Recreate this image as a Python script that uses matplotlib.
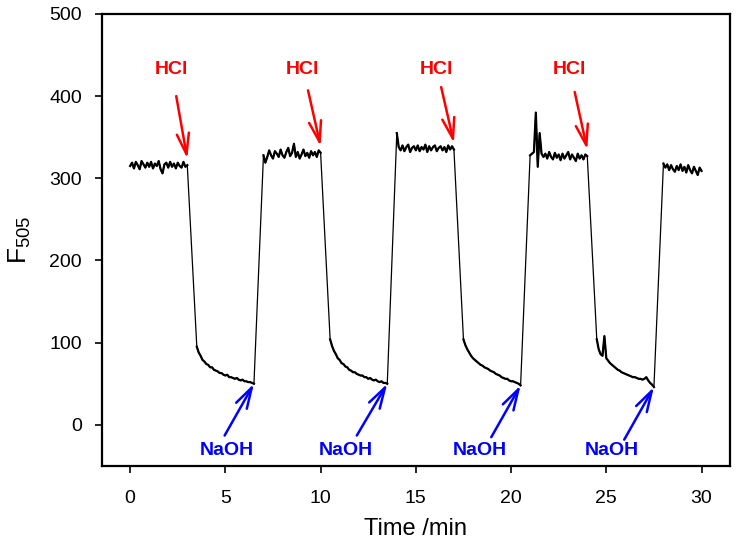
import numpy as np
import matplotlib.pyplot as plt

plt.rcParams['font.family'] = ['Liberation Sans', 'DejaVu Sans']
plt.rcParams['mathtext.default'] = 'regular'

# sampling step of the trace (min)
step = 0.1

# trace pieces: (start time, F505 values every 0.1 min)
p1_start = 0.0
p1 = [315, 319, 312, 320, 316, 311, 321, 317, 313, 319, 314, 320, 312, 318, 315, 321,
      311, 306, 317, 319, 313, 320, 314, 318, 312, 319, 315, 313, 320, 314, 316]
d1_start = 3.5
d1 = [95, 88, 84, 79, 77, 74, 73, 70, 70, 67, 66, 65, 63, 63, 61, 60, 61, 58, 58, 57,
      56, 57, 55, 54, 55, 53, 53, 52, 52, 51, 50]
p2_start = 7.0
p2 = [328, 319, 326, 334, 328, 324, 333, 330, 326, 335, 328, 325, 332, 337, 327, 331,
      342, 326, 332, 324, 329, 335, 327, 331, 325, 333, 328, 332, 326, 334, 331]
d2_start = 10.5
d2 = [104, 96, 90, 86, 81, 79, 75, 74, 71, 70, 67, 66, 64, 64, 62, 61, 60, 60, 58, 58,
      56, 57, 55, 54, 55, 53, 52, 53, 51, 51, 50]
p3_start = 14.0
p3 = [355, 338, 334, 340, 333, 338, 341, 332, 337, 339, 334, 340, 333, 338, 335, 341,
      332, 339, 334, 338, 340, 333, 337, 339, 334, 338, 332, 340, 335, 339, 335]
d3_start = 17.5
d3 = [104, 97, 92, 88, 84, 81, 79, 77, 75, 73, 72, 70, 69, 68, 66, 65, 64, 62, 61, 60,
      58, 57, 56, 56, 54, 53, 53, 52, 51, 50, 48]
p4_start = 21.0
p4 = [328, 330, 332, 380, 314, 355, 330, 326, 330, 324, 332, 326, 323, 331, 325, 329,
      322, 330, 324, 328, 332, 323, 329, 325, 321, 330, 324, 328, 323, 329, 327]
d4_start = 24.5
d4 = [104, 92, 86, 84, 108, 81, 78, 75, 73, 71, 69, 67, 66, 64, 63, 62, 61, 60, 59, 58,
      58, 57, 56, 56, 55, 56, 58, 54, 51, 49, 46]
p5_start = 28.0
p5 = [318, 313, 317, 310, 316, 311, 308, 315, 310, 317, 309, 314, 307, 316, 310, 306,
      314, 309, 304, 313, 309]

pieces = [(p1_start, p1), (d1_start, d1), (p2_start, p2), (d2_start, d2),
          (p3_start, p3), (d3_start, d3), (p4_start, p4), (d4_start, d4),
          (p5_start, p5)]

t = np.concatenate([start + step * np.arange(len(v)) for start, v in pieces])
F = np.concatenate([np.array(v, dtype=float) for start, v in pieces])

# HCl is added at the end of each plateau, NaOH at the end of each decay
hcl_pieces = [(p1_start, p1), (p2_start, p2), (p3_start, p3), (p4_start, p4)]
naoh_pieces = [(d1_start, d1), (d2_start, d2), (d3_start, d3), (d4_start, d4)]
hcl_tails = [(2.42, 400), (9.34, 407), (16.33, 411), (23.34, 405)]
hcl_text = [(2.16, 433), (9.07, 433), (16.07, 433), (23.04, 433)]
naoh_tails = [(4.96, -13), (11.9, -13), (18.96, -15), (25.94, -18)]
naoh_text = [(5.05, -31), (11.34, -31), (18.35, -31), (25.3, -31)]

fig = plt.figure(figsize=(7.36, 5.58), dpi=100)
ax = fig.add_axes([0.138, 0.165, 0.854, 0.810])

# thin line for the jumps, heavier for the noisy recorded pieces
ax.plot(t, F, color='black', lw=0.9)
for start, v in pieces:
    ax.plot(start + step * np.arange(len(v)), v, color='black', lw=1.6)

arrow = '->, head_length=0.75, head_width=0.22'
for (start, v), tail, txt in zip(hcl_pieces, hcl_tails, hcl_text):
    head = (start + step * (len(v) - 1), v[-1] + 8)
    ax.annotate('', xy=head, xytext=tail,
                arrowprops=dict(arrowstyle=arrow, color='#ff0000', lw=1.8,
                                shrinkA=0, shrinkB=0, mutation_scale=20))
    ax.text(txt[0], txt[1], 'HCl', color='#ff0000', fontsize=14, fontweight='bold',
            ha='center', va='center')

for (start, v), tail, txt in zip(naoh_pieces, naoh_tails, naoh_text):
    head = (start + step * (len(v) - 1), v[-1])
    ax.annotate('', xy=head, xytext=tail,
                arrowprops=dict(arrowstyle=arrow, color='#0000ff', lw=1.8,
                                shrinkA=0, shrinkB=0, mutation_scale=20))
    ax.text(txt[0], txt[1], 'NaOH', color='#0000ff', fontsize=14, fontweight='bold',
            ha='center', va='center')

ax.set_xlim(-1.5, 31.5)
ax.set_ylim(-50, 500)
ax.set_xticks([0, 5, 10, 15, 20, 25, 30])
ax.set_yticks([0, 100, 200, 300, 400, 500])
ax.tick_params(direction='out', length=5, width=1.2, labelsize=14, top=False, right=False)
ax.tick_params(axis='x', pad=12)
ax.tick_params(axis='y', pad=9)
for s in ax.spines.values():
    s.set_linewidth(1.6)

ax.set_xlabel('Time /min', fontsize=17, labelpad=8)
ax.set_ylabel('F$_{505}$', fontsize=19, labelpad=12)

fig.savefig('out.png', dpi=100)
